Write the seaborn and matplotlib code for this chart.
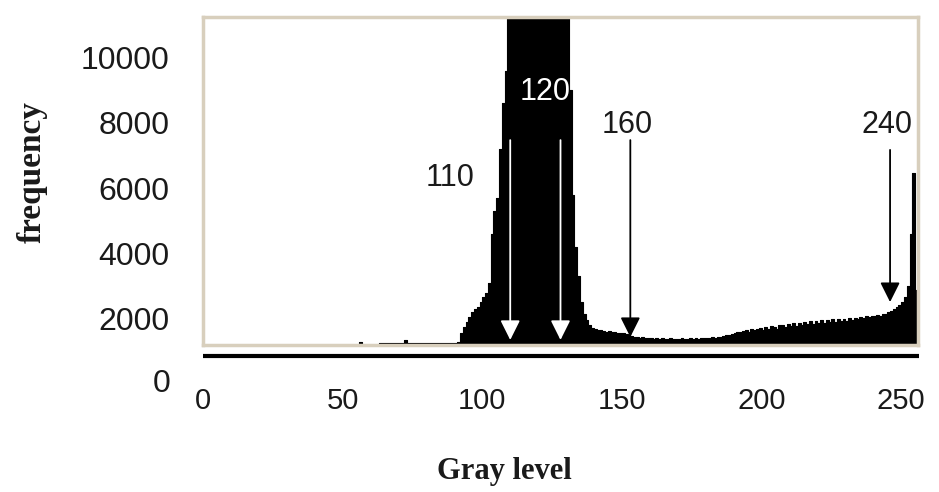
import numpy as np
import matplotlib
matplotlib.use("Agg")
import matplotlib.pyplot as plt
import seaborn as sns

# histogram of gray levels (counts, bins 50..255)
gray = np.arange(50, 256)
counts = [
    0, 0, 0, 0, 0, 0, 1300, 0, 0, 0,                                  # 50-59
    0, 0, 0, 1260, 1260, 1260, 1260, 1260, 1260, 1260,                # 60-69
    1260, 1260, 1350, 1260, 1260, 1260, 1260, 1260, 1260, 1260,       # 70-79
    1260, 1260, 1260, 1260, 1260, 1260, 1260, 1260, 1260, 1260,       # 80-89
    1260, 1300, 1550, 1750, 1900, 2050, 2200, 2300, 2350, 2500,       # 90-99
    2650, 2800, 3100, 4600, 5300, 5700, 7200, 8600, 9600, 12500,      # 100-109
    14500, 16000, 17500, 18500, 19500, 20500, 21000, 21500, 21800, 22000,  # 110-119
    21800, 21500, 21000, 20500, 19500, 18500, 17000, 15500, 14000, 12500,  # 120-129
    11500, 9000, 5800, 4200, 3300, 2500, 2150, 1950, 1800, 1720,      # 130-139
    1680, 1650, 1640, 1620, 1600, 1610, 1590, 1580, 1570, 1560,       # 140-149
    1560, 1520, 1490, 1460, 1440, 1450, 1420, 1430, 1410, 1400,       # 150-159
    1420, 1390, 1400, 1380, 1410, 1390, 1380, 1400, 1370, 1390,       # 160-169
    1380, 1400, 1380, 1390, 1410, 1380, 1400, 1390, 1410, 1400,       # 170-179
    1420, 1410, 1430, 1420, 1450, 1440, 1470, 1490, 1510, 1530,       # 180-189
    1560, 1580, 1600, 1620, 1650, 1600, 1670, 1640, 1690, 1720,       # 190-199
    1660, 1740, 1680, 1780, 1760, 1700, 1800, 1820, 1740, 1840,       # 200-209
    1780, 1860, 1790, 1880, 1820, 1900, 1830, 1920, 1850, 1930,       # 210-219
    1880, 1950, 1870, 1960, 1890, 1980, 1900, 1990, 1930, 2000,       # 220-229
    1940, 2010, 1960, 2030, 1990, 2040, 2020, 2070, 2040, 2090,       # 230-239
    2080, 2100, 2090, 2130, 2150, 2200, 2230, 2300, 2350, 2420,       # 240-249
    2500, 2650, 3000, 4600, 6460, 2880,                               # 250-255
]

y_ticks = [2000, 4000, 6000, 8000, 10000]
x_ticks = [0, 50, 100, 150, 200, 250]

# marked thresholds (arrow position on the axis, printed label)
arrow_x = [110, 128, 153, 246]
arrow_labels = ["110", "120", "160", "240"]

sns.set_theme(style="white")
plt.rcParams["font.family"] = ["Liberation Sans", "DejaVu Sans"]

fig = plt.figure(figsize=(9.39, 4.92), dpi=100)
ax = fig.add_axes([203 / 939, 1 - 345 / 492, 715 / 939, 328 / 492])

x_edges = np.append(gray, 256)
y_steps = np.append(counts, counts[-1])
ax.fill_between(x_edges, y_steps, step="post", color="black", lw=0)
sns.lineplot(x=x_edges, y=y_steps, drawstyle="steps-post", color="black",
             lw=0.8, ax=ax)

ax.set_xlim(0, 256)
ax.set_ylim(1195, 11240)

for s in ax.spines.values():
    s.set_color("#d8cfbd")
    s.set_linewidth(2.5)

# heavy base line under the plot frame
ax.plot([0, 256.5], [860, 860], color="black", lw=3, clip_on=False,
        solid_capstyle="butt")

ax.set_yticks(y_ticks)
ax.set_yticklabels([str(v) for v in y_ticks])
ax.set_xticks(x_ticks)
ax.set_xticklabels([str(v) for v in x_ticks])
ax.tick_params(axis="y", length=0, pad=24, labelsize=23, labelcolor="#1a1a1a")
ax.tick_params(axis="x", length=0, pad=30, labelsize=21, labelcolor="#1a1a1a")
ax.text(-0.046, 0, "0", transform=ax.get_yaxis_transform(), ha="right",
        va="center", fontsize=23, color="#1a1a1a", clip_on=False)

# arrows and their labels
tips = [1350, 1350, 1440, 2510]
starts = [7470, 7470, 7470, 7170]
arrow_cols = ["white", "white", "black", "black"]
label_pos = [(88.3, 6310), (122.4, 8940), (151.9, 7930), (244.9, 7930)]
label_cols = ["#1a1a1a", "white", "#1a1a1a", "#1a1a1a"]
for x, lab, tip, st, ac, (lx, ly), lc in zip(arrow_x, arrow_labels, tips,
                                              starts, arrow_cols, label_pos,
                                              label_cols):
    ax.annotate("", xy=(x, tip), xytext=(x, st),
                arrowprops=dict(arrowstyle="-|>,head_length=0.6,head_width=0.3",
                                color=ac, lw=1.3, mutation_scale=20,
                                shrinkA=0, shrinkB=0))
    ax.text(lx, ly, lab, ha="center", va="center", fontsize=22, color=lc)

ax.set_xlabel("Gray level", fontsize=22, fontweight="bold",
              family=["Liberation Serif", "DejaVu Serif"], color="#1a1a1a")
ax.xaxis.set_label_coords((504 - 203) / 715, (345 - 472) / 328)
ax.xaxis.label.set_va("center")
ax.set_ylabel("frequency", fontsize=24, fontweight="bold",
              family=["Liberation Serif", "DejaVu Serif"], color="#1a1a1a")
ax.yaxis.set_label_coords((32 - 203) / 715, (345 - 172) / 328)
ax.yaxis.label.set_va("center")

fig.savefig("out.png", dpi=100)
